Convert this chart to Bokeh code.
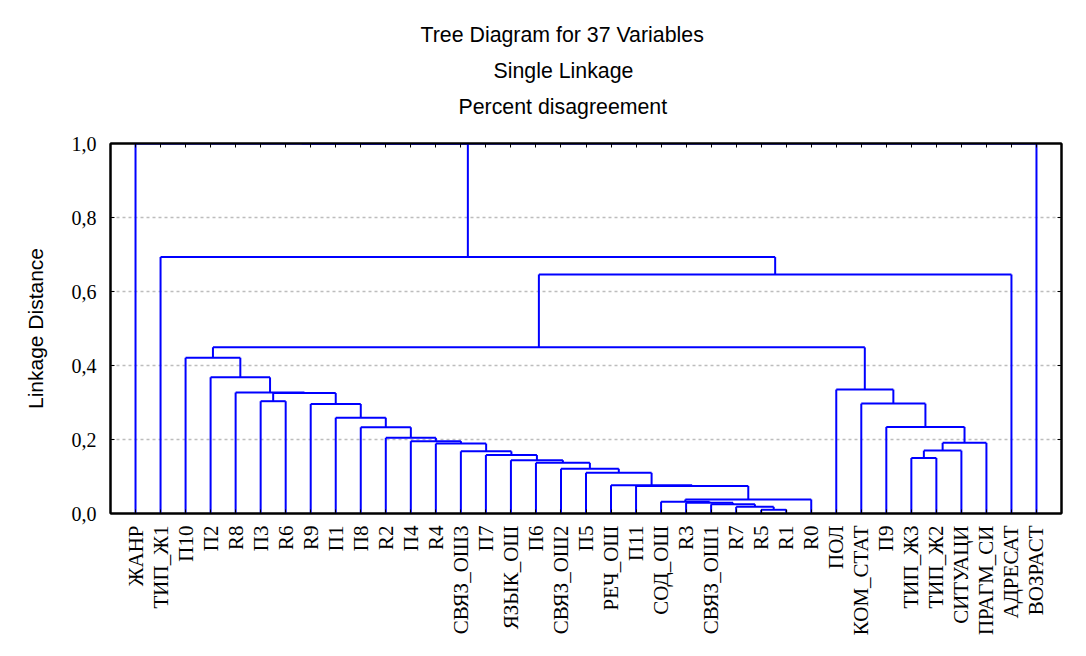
import math
from bokeh.plotting import figure
from bokeh.models import Range1d, FixedTicker, LinearAxis, Title, CustomJSTickFormatter
from bokeh.embed import file_html
from bokeh.resources import INLINE

# ---- data ----
leaves = ["ЖАНР", "ТИП_Ж1", "П10", "П2", "R8", "П3", "R6", "R9", "П1", "П8",
          "R2", "П4", "R4", "СВЯЗ_ОШ3", "П7", "ЯЗЫК_ОШ", "П6", "СВЯЗ_ОШ2", "П5",
          "РЕЧ_ОШ", "П11", "СОД_ОШ", "R3", "СВЯЗ_ОШ1", "R7", "R5", "R1", "R0",
          "ПОЛ", "КОМ_СТАТ", "П9", "ТИП_Ж3", "ТИП_Ж2", "СИТУАЦИ", "ПРАГМ_СИ",
          "АДРЕСАТ", "ВОЗРАСТ"]

# merges: left member, right member ("#k" = k-th merge), linkage distance
merge_left = ["R5", "R7", "СВЯЗ_ОШ1", "R3", "СОД_ОШ", "#4", "П11", "РЕЧ_ОШ", "П5",
              "СВЯЗ_ОШ2", "П6", "ЯЗЫК_ОШ", "ТИП_Ж3", "П7", "СВЯЗ_ОШ3", "#12", "R4",
              "#15", "П4", "R2", "П8", "П9", "П1", "R9", "КОМ_СТАТ", "П3", "#25",
              "R8", "ПОЛ", "П2", "П10", "#30", "#31", "ТИП_Ж1", "ЖАНР", "#34"]
merge_right = ["R1", "#0", "#1", "#2", "#3", "R0", "#5", "#6", "#7",
               "#8", "#9", "#10", "ТИП_Ж2", "#11", "#13", "СИТУАЦИ", "#14",
               "ПРАГМ_СИ", "#16", "#18", "#19", "#17", "#20", "#22", "#21", "R6", "#23",
               "#26", "#24", "#27", "#29", "#28", "АДРЕСАТ", "#32", "#33", "ВОЗРАСТ"]
merge_height = [0.010, 0.018, 0.025, 0.029, 0.032, 0.038, 0.0745, 0.0765, 0.110,
                0.121, 0.137, 0.144, 0.150, 0.158, 0.168, 0.170, 0.189,
                0.191, 0.1955, 0.2045, 0.233, 0.234, 0.259, 0.296, 0.297, 0.3035, 0.3255,
                0.327, 0.335, 0.368, 0.421, 0.449, 0.646, 0.693, 1.0, 1.0]

y_ticks = [0.0, 0.2, 0.4, 0.6, 0.8, 1.0]
titles = ["Tree Diagram for 37 Variables", "Single Linkage", "Percent disagreement"]

# ---- build dendrogram segments ----
pos = {name: i + 1 for i, name in enumerate(leaves)}
hgt = {name: 0.0 for name in leaves}
x0s, y0s, x1s, y1s = [], [], [], []
for k, (a, b, h) in enumerate(zip(merge_left, merge_right, merge_height)):
    xa, xb = pos[a], pos[b]
    ha, hb = hgt[a], hgt[b]
    x0s += [xa, xb, xa]
    y0s += [ha, hb, h]
    x1s += [xa, xb, xb]
    y1s += [h, h, h]
    pos["#%d" % k] = (xa + xb) / 2.0
    hgt["#%d" % k] = h

n = len(leaves)
p = figure(frame_width=951, frame_height=370, title=None,
           x_range=Range1d(0, n + 1), y_range=Range1d(0, 1),
           output_backend="svg", toolbar_location=None,
           min_border_left=110, min_border_right=12,
           min_border_top=143, min_border_bottom=134)
p.background_fill_color = "white"
p.border_fill_color = "white"
p.outline_line_color = "black"
p.outline_line_width = 2

p.segment(x0=x0s, y0=y0s, x1=x1s, y1=y1s, line_color="#0000ff", line_width=2)

xticker = FixedTicker(ticks=list(range(1, n + 1)))
yticker = FixedTicker(ticks=y_ticks)

# bottom axis
xa_ = p.xaxis[0]
xa_.ticker = xticker
xa_.major_label_overrides = {i + 1: name for i, name in enumerate(leaves)}
xa_.major_label_orientation = math.pi / 2
xa_.major_label_text_font = "Liberation Serif"
xa_.major_label_text_font_size = "21px"
xa_.major_label_text_color = "black"
xa_.major_label_standoff = 12
xa_.major_tick_in = 4
xa_.major_tick_out = 0
xa_.minor_tick_line_color = None
xa_.axis_line_width = 2
xa_.axis_line_color = "black"

# left axis
ya_ = p.yaxis[0]
ya_.ticker = yticker
ya_.formatter = CustomJSTickFormatter(code="return tick.toFixed(1).replace('.', ',');")
ya_.major_label_text_font = "Liberation Serif"
ya_.major_label_text_font_size = "20px"
ya_.major_label_text_color = "black"
ya_.major_label_standoff = 14
ya_.major_tick_in = 4
ya_.major_tick_out = 0
ya_.minor_tick_line_color = None
ya_.axis_line_width = 2
ya_.axis_label = "Linkage Distance"
ya_.axis_label_text_font = "Liberation Sans"
ya_.axis_label_text_font_size = "21px"
ya_.axis_label_text_font_style = "normal"
ya_.axis_label_text_color = "black"
ya_.axis_label_standoff = 22

# top and right axes (ticks only, empty labels)
blank = CustomJSTickFormatter(code="return '';")
top = LinearAxis(ticker=xticker, formatter=blank, major_label_text_font_size="10px",
                 major_tick_in=4, major_tick_out=0, minor_tick_line_color=None,
                 axis_line_width=2, major_label_standoff=0)
right = LinearAxis(ticker=yticker, formatter=blank, major_label_text_font_size="10px",
                   major_tick_in=4, major_tick_out=0, minor_tick_line_color=None,
                   axis_line_width=2, major_label_standoff=0)
p.add_layout(top, "above")
p.add_layout(right, "right")

# invisible spacer between frame and titles
spacer = LinearAxis(ticker=xticker, formatter=blank, major_label_text_font_size="10px",
                    major_tick_in=0, major_tick_out=20, major_tick_line_color=None,
                    minor_tick_line_color=None, axis_line_color=None,
                    major_label_standoff=0)
p.add_layout(spacer, "above")

# titles: nearest to the frame first
title_offsets = [310, 383, 348]
for t, off in reversed(list(zip(titles, title_offsets))):
    p.add_layout(Title(text=t, align="left", offset=off, text_font="Liberation Sans",
                       text_font_size="16pt", text_font_style="normal",
                       text_color="black", standoff=10), "above")

p.xgrid.visible = False
p.ygrid.ticker = yticker
p.ygrid.grid_line_color = "#bdbdbd"
p.ygrid.grid_line_dash = "3 3"
p.ygrid.grid_line_width = 1.5

open("out.html", "w").write(file_html(p, INLINE))
